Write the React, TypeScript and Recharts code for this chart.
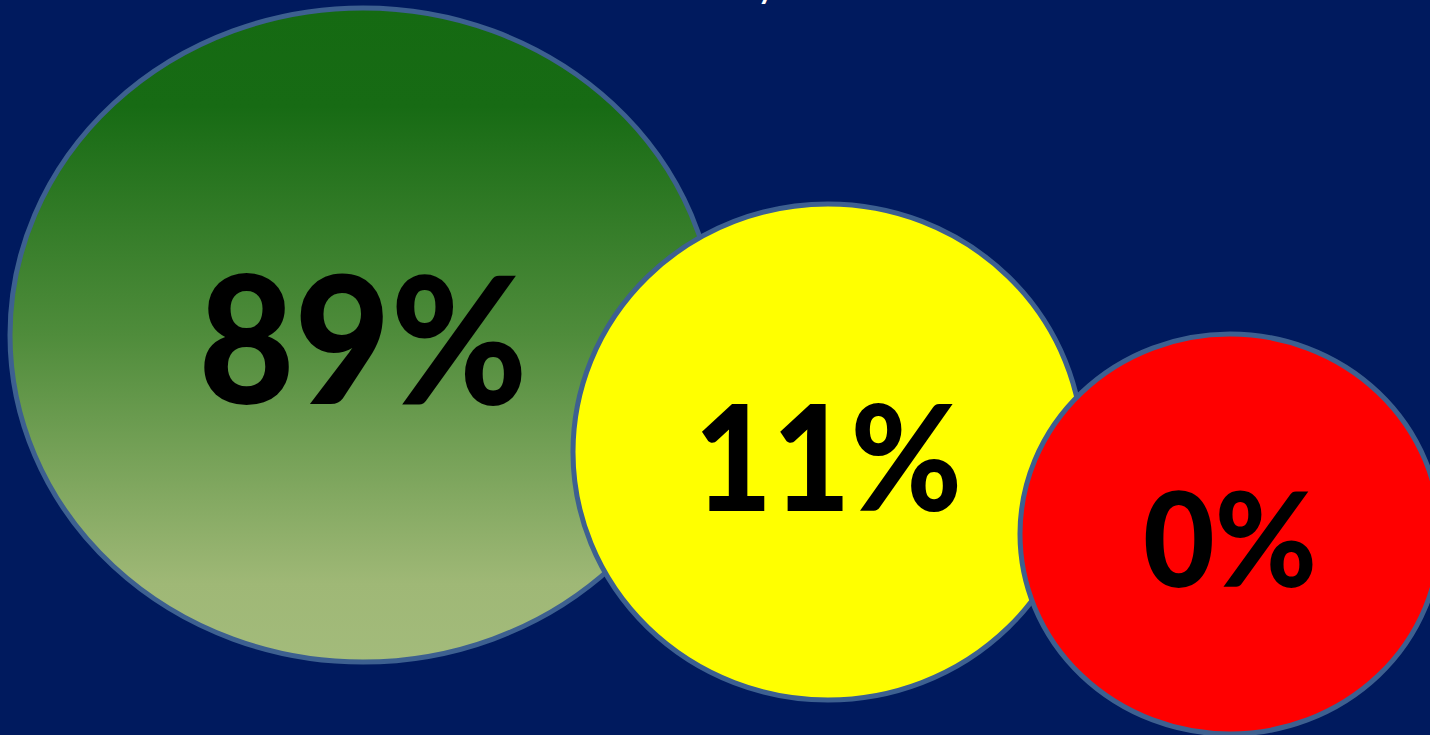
import { ScatterChart, Scatter, XAxis, YAxis } from 'recharts';

// chart values
const labels = ['89%', '11%', '0%'];
const shares = [89, 11, 0];
// bubble centres in axis units (x: 0-1430, y: 0-735 top-down)
const centerX = [363, 828, 1230];
const centerY = [335, 452, 534];

const W = 1430;
const H = 735;

// layout for each bubble: radii, fill, label size
const bubbleStyle = [
  { rx: 353, ry: 327, fill: 'url(#greenFade)', font: 178, textW: 329, dy: 0 },
  { rx: 255, ry: 248, fill: '#FFFF00', font: 146, textW: 268, dy: 2 },
  { rx: 210, ry: 200, fill: '#FF0000', font: 132, textW: 174, dy: 2 },
];

const data = labels.map((label, i) => ({
  label,
  share: shares[i],
  x: centerX[i],
  y: centerY[i],
  idx: i,
}));

function Bubble(props: any) {
  const { cx, cy, payload } = props;
  const s = bubbleStyle[payload.idx];
  return (
    <g>
      <ellipse cx={cx} cy={cy} rx={s.rx} ry={s.ry} fill={s.fill} stroke="#3D6090" strokeWidth={5} />
      <text
        x={cx}
        y={cy + s.dy}
        textAnchor="middle"
        dominantBaseline="central"
        fontFamily="Lato, 'Open Sans', sans-serif"
        fontWeight={900}
        fontSize={s.font}
        fill="#000"
        textLength={s.textW}
        lengthAdjust="spacingAndGlyphs"
      >
        {payload.label}
      </text>
    </g>
  );
}

export default function App() {
  return (
    <div style={{ width: W, height: H, background: '#001A5E', overflow: 'hidden' }}>
      <style>{'body{margin:0;}'}</style>
      <ScatterChart width={W} height={H} margin={{ top: 0, right: 0, bottom: 0, left: 0 }}>
        <defs>
          <linearGradient id="greenFade" x1="0" y1="0" x2="0" y2="1">
            <stop offset="0%" stopColor="#156A12" />
            <stop offset="15%" stopColor="#176B14" />
            <stop offset="50%" stopColor="#4F8C3B" />
            <stop offset="88%" stopColor="#9FB876" />
            <stop offset="100%" stopColor="#A3BB7B" />
          </linearGradient>
        </defs>
        <XAxis type="number" dataKey="x" domain={[0, W]} hide allowDataOverflow />
        <YAxis type="number" dataKey="y" domain={[0, H]} hide reversed allowDataOverflow />
        <Scatter data={data} shape={<Bubble />} isAnimationActive={false} />
        <text x={766} y={-1} textAnchor="middle" fontFamily="Lato, sans-serif" fontWeight={700} fontSize={30} fill="#fff">
          y
        </text>
      </ScatterChart>
    </div>
  );
}
